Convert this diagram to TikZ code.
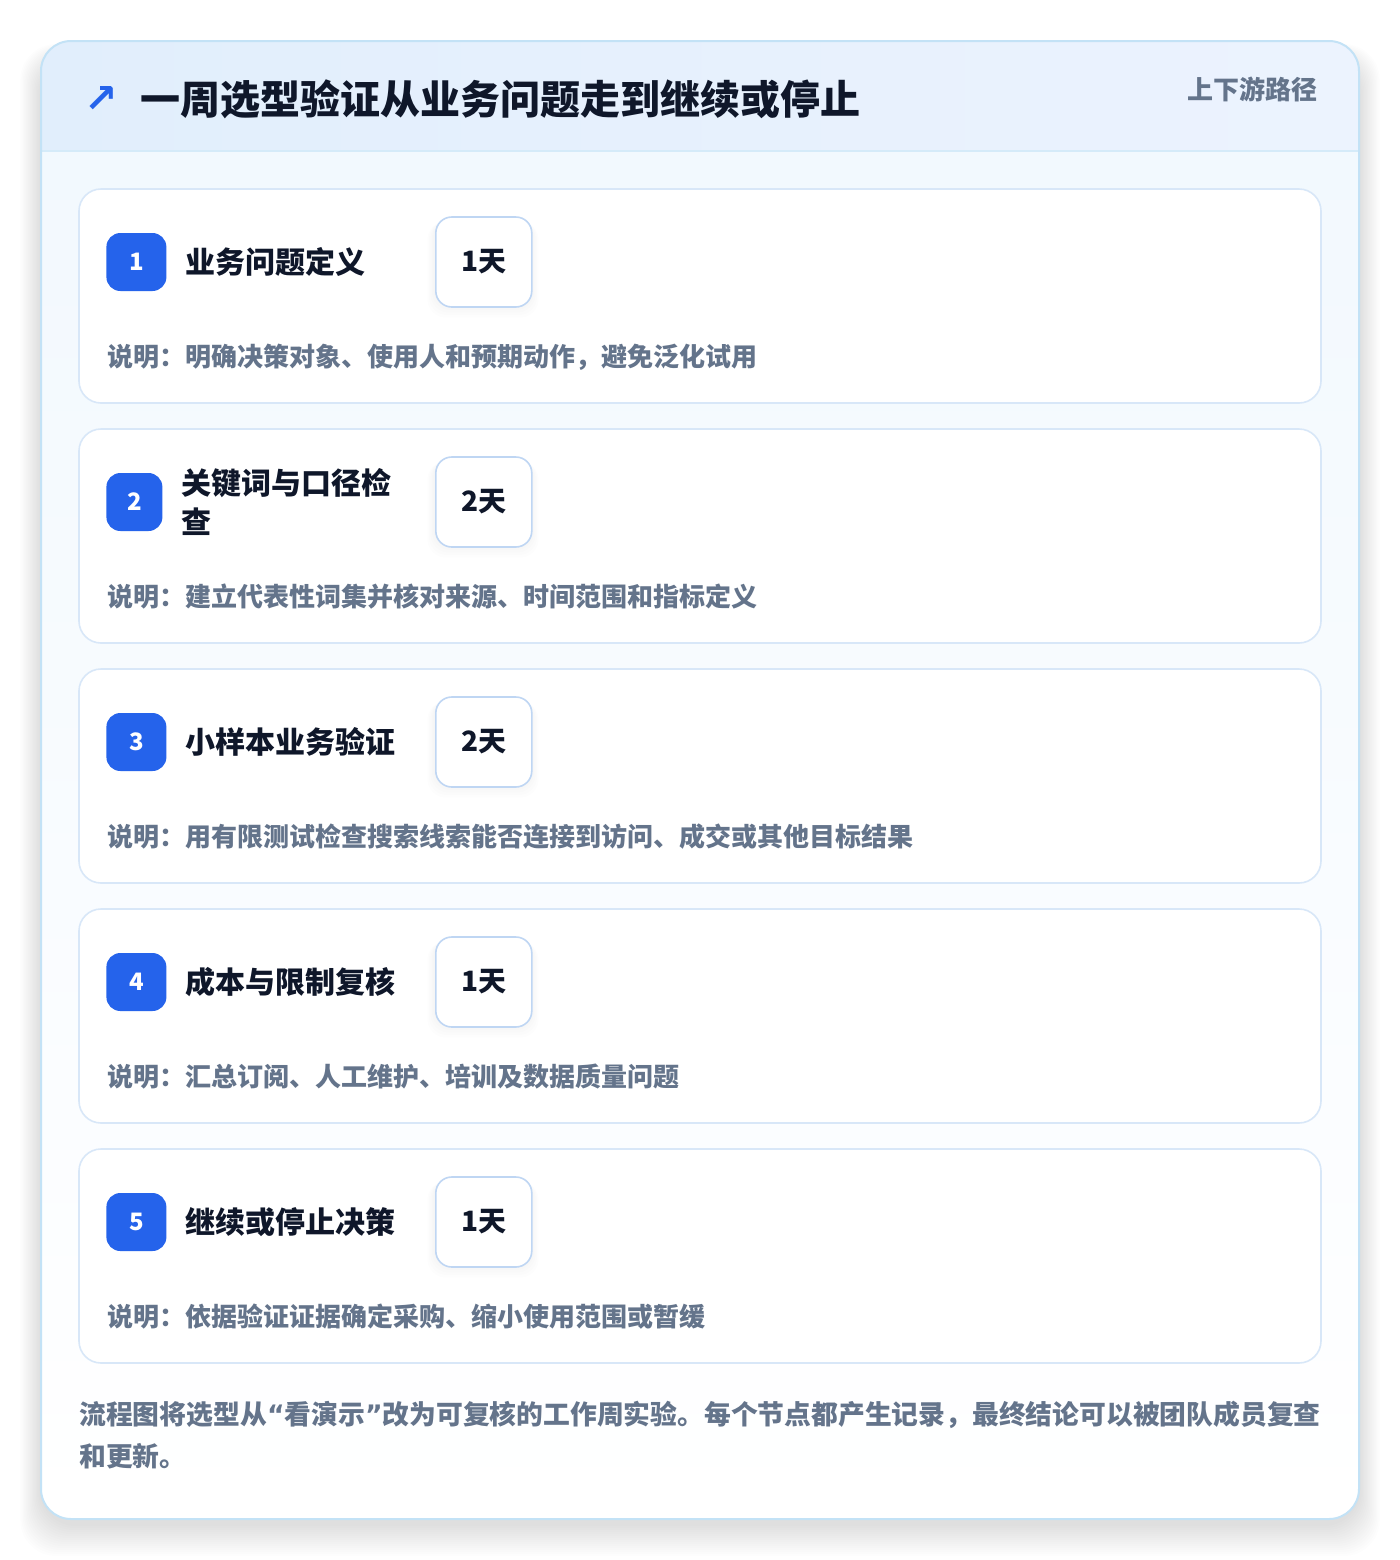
\documentclass[tikz,border=0pt]{standalone}
\usepackage{fontspec}
\setmainfont{Noto Sans CJK SC}
\newfontfamily\symfont{DejaVu Sans}
\usepackage{tikz}
\usetikzlibrary{positioning}

\definecolor{badgeblue}{HTML}{2563EB}
\definecolor{inkdark}{HTML}{0F172A}
\definecolor{inkgray}{HTML}{64748B}
\definecolor{cardline}{HTML}{D8E7F8}
\definecolor{daysline}{HTML}{BFD6F3}
\definecolor{frameline}{HTML}{C3E2F6}
\definecolor{headleft}{HTML}{E1EEFC}
\definecolor{headright}{HTML}{ECF3FE}
\definecolor{bodytop}{HTML}{F1F8FE}

\begin{document}
\begin{tikzpicture}[x=0.5pt,y=-0.5pt]
        \tikzstyle{card}=[draw=cardline, fill=white, line width=0.8pt,
            rounded corners=11pt, minimum width=621pt, minimum height=107pt,
            inner sep=0pt]
        \tikzstyle{badge}=[fill=badgeblue, text=white, rounded corners=7pt,
            minimum height=29pt, inner sep=0pt, font=\bfseries\fontsize{12}{14}\selectfont]
        \tikzstyle{stepname}=[text=inkdark, inner sep=0pt, align=left,
            font=\bfseries\fontsize{15}{19.5}\selectfont]
        \tikzstyle{days}=[draw=daysline, fill=white, line width=0.8pt,
            rounded corners=8pt, minimum width=48pt, minimum height=45pt,
            text=inkdark, font=\bfseries\fontsize{14}{16}\selectfont]
        \tikzstyle{note}=[text=inkgray, inner sep=0pt,
            font=\bfseries\fontsize{13}{16}\selectfont]

        \useasboundingbox (0,0) rectangle (1400,1560);
        \fill[white] (0,0) rectangle (1400,1560);

        % soft shadow under the frame
        \foreach \s in {1,...,16}
            \fill[black, opacity=0.006, rounded corners=18pt]
                (41-1.3*\s,60-1*\s) rectangle (1359+1.3*\s,1524+2*\s);

        % frame with header band
        \begin{scope}
            \clip[rounded corners=15pt] (41,41) rectangle (1359,1519);
            \fill[top color=bodytop, bottom color=white] (41,41) rectangle (1359,1519);
            \fill[left color=headleft, right color=headright] (41,41) rectangle (1359,151);
            \draw[frameline!70, line width=0.8pt] (41,151) -- (1359,151);
        \end{scope}
        \draw[frameline, line width=1pt, rounded corners=15pt] (41,41) rectangle (1359,1519);

        \node[text=badgeblue, font=\symfont\bfseries\fontsize{20}{20}\selectfont] (icon) at (101,99) {↗};
        \node[anchor=west, inner sep=0pt, text=inkdark,
            font=\bfseries\fontsize{20}{24}\selectfont] (title) at (140,99)
            {一周选型验证从业务问题走到继续或停止};
        \node[anchor=east, inner sep=0pt, text=inkgray,
            font=\bfseries\fontsize{13}{16}\selectfont] (flow) at (1318,89) {上下游路径};

        % five steps
        \foreach \i/\name/\d/\desc/\bw [evaluate=\i as \cy using 296+240*(\i-1)] in {
            1/{业务问题定义}/1/{明确决策对象、使用人和预期动作，避免泛化试用}/30,
            2/{关键词与口径检\\查}/2/{建立代表性词集并核对来源、时间范围和指标定义}/28,
            3/{小样本业务验证}/2/{用有限测试检查搜索线索能否连接到访问、成交或其他目标结果}/30,
            4/{成本与限制复核}/1/{汇总订阅、人工维护、培训及数据质量问题}/30,
            5/{继续或停止决策}/1/{依据验证证据确定采购、缩小使用范围或暂缓}/30} {
            \node[card] (card\i) at (700,\cy) {};
            \node[badge, minimum width=\bw pt, anchor=west] (b\i) at (106,\cy-34) {\i};
            \node[stepname, right=9pt of b\i] (t\i) {\name};
            \foreach \g in {1,...,5}
                \fill[black, opacity=0.008, rounded corners=9pt]
                    (435-1.5*\g,\cy-77+0.5*\g) rectangle (531+1.5*\g,\cy+9+2.5*\g);
            \node[days, anchor=west] (d\i) at (435,\cy-34) {\d 天};
            \node[note, anchor=west] (n\i) at (107,\cy+61) {说明：\desc};
        }

        \node[anchor=north west, inner sep=0pt, text=inkgray, align=left,
            font=\bfseries\fontsize{13.4}{21}\selectfont] (summary) at (79,1401)
            {流程图将选型从{\symfont “}看演示{\symfont ”}改为可复核的工作周实验。每个节点都产生记录，最终结论可以被团队成员复查\\和更新。};
\end{tikzpicture}
\end{document}
